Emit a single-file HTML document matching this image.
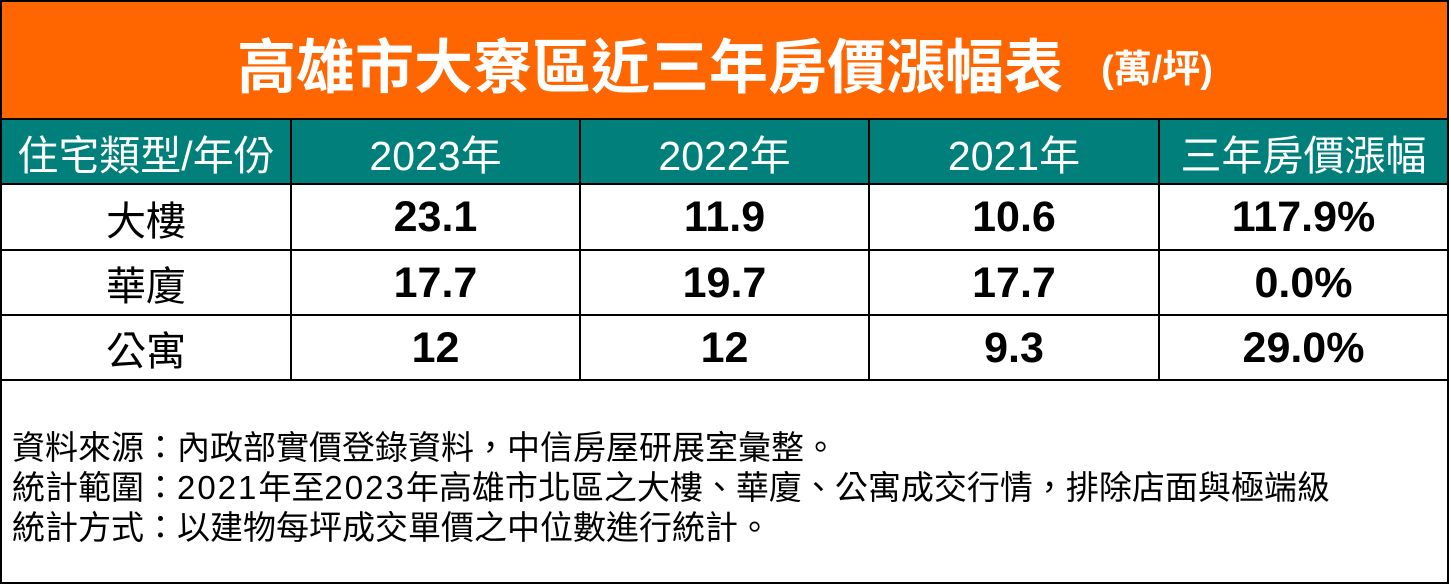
<!DOCTYPE html>
<html>
<head>
<meta charset="utf-8">
<style>
  html, body { margin:0; padding:0; background:#fff; }
  body { width:1451px; height:587px; position:relative; overflow:hidden;
         font-family:"Liberation Sans","Noto Sans CJK TC",sans-serif; }
  .abs { position:absolute; }
  .h { position:absolute; background:#000; height:2px; }
  .v { position:absolute; background:#000; width:2px; }
  .cell { position:absolute; display:flex; align-items:center; justify-content:center; white-space:nowrap; }
  .hd { color:#fff; font-size:41px; font-weight:normal; }
  .lbl { color:#000; font-size:40px; }
  .num { color:#000; font-size:43px; font-weight:bold; }
  .note { position:absolute; left:12px; font-size:33px; color:#000; white-space:nowrap; line-height:40px; }
  .d { letter-spacing:2px; }
</style>
</head>
<body>
  <!-- fills -->
  <div class="abs" style="left:2px;top:2px;width:1446px;height:117px;background:#FF6600;"></div>
  <div class="abs" style="left:2px;top:120px;width:1446px;height:64px;background:#007F7B;"></div>

  <!-- title -->
  <div class="cell" style="left:2px;top:4px;width:1446px;height:116px;color:#fff;font-weight:bold;">
    <span style="font-size:59px;">高雄市大寮區近三年房價漲幅表</span><span style="font-size:38px;margin-left:38px;margin-top:6px;">(萬/坪)</span>
  </div>

  <!-- header -->
  <div class="cell hd" style="left:2px;top:120px;width:288px;height:64px;">住宅類型/年份</div>
  <div class="cell hd" style="left:292px;top:120px;width:287px;height:64px;">2023年</div>
  <div class="cell hd" style="left:581px;top:120px;width:287px;height:64px;">2022年</div>
  <div class="cell hd" style="left:870px;top:120px;width:288px;height:64px;">2021年</div>
  <div class="cell hd" style="left:1160px;top:120px;width:287px;height:64px;">三年房價漲幅</div>

  <!-- row 1 -->
  <div class="cell lbl" style="left:2px;top:185px;width:288px;height:65px;">大樓</div>
  <div class="cell num" style="left:292px;top:185px;width:287px;height:65px;">23.1</div>
  <div class="cell num" style="left:581px;top:185px;width:287px;height:65px;">11.9</div>
  <div class="cell num" style="left:870px;top:185px;width:288px;height:65px;">10.6</div>
  <div class="cell num" style="left:1160px;top:185px;width:287px;height:65px;">117.9%</div>

  <!-- row 2 -->
  <div class="cell lbl" style="left:2px;top:251px;width:288px;height:64px;">華廈</div>
  <div class="cell num" style="left:292px;top:251px;width:287px;height:64px;">17.7</div>
  <div class="cell num" style="left:581px;top:251px;width:287px;height:64px;">19.7</div>
  <div class="cell num" style="left:870px;top:251px;width:288px;height:64px;">17.7</div>
  <div class="cell num" style="left:1160px;top:251px;width:287px;height:64px;">0.0%</div>

  <!-- row 3 -->
  <div class="cell lbl" style="left:2px;top:316px;width:288px;height:64px;">公寓</div>
  <div class="cell num" style="left:292px;top:316px;width:287px;height:64px;">12</div>
  <div class="cell num" style="left:581px;top:316px;width:287px;height:64px;">12</div>
  <div class="cell num" style="left:870px;top:316px;width:288px;height:64px;">9.3</div>
  <div class="cell num" style="left:1160px;top:316px;width:287px;height:64px;">29.0%</div>

  <!-- notes -->
  <div class="note" style="top:428px;">資料來源：內政部實價登錄資料，中信房屋研展室彙整。</div>
  <div class="note" style="top:468px;">統計範圍：<span class="d">2021</span>年至<span class="d">2023</span>年高雄市北區之大樓、華廈、公寓成交行情，排除店面與極端級</div>
  <div class="note" style="top:508px;">統計方式：以建物每坪成交單價之中位數進行統計。</div>

  <!-- horizontal lines -->
  <div class="h" style="left:0;top:0;width:1449px;"></div>
  <div class="h" style="left:0;top:118px;width:1449px;"></div>
  <div class="h" style="left:0;top:183px;width:1449px;"></div>
  <div class="h" style="left:0;top:249px;width:1449px;"></div>
  <div class="h" style="left:0;top:314px;width:1449px;"></div>
  <div class="h" style="left:0;top:379px;width:1449px;"></div>
  <div class="h" style="left:0;top:582px;width:1449px;"></div>

  <!-- vertical lines -->
  <div class="v" style="left:0;top:0;height:584px;"></div>
  <div class="v" style="left:1447px;top:0;height:584px;"></div>
  <div class="v" style="left:290px;top:118px;height:263px;"></div>
  <div class="v" style="left:579px;top:118px;height:263px;"></div>
  <div class="v" style="left:868px;top:118px;height:263px;"></div>
  <div class="v" style="left:1158px;top:118px;height:263px;"></div>
</body>
</html>
